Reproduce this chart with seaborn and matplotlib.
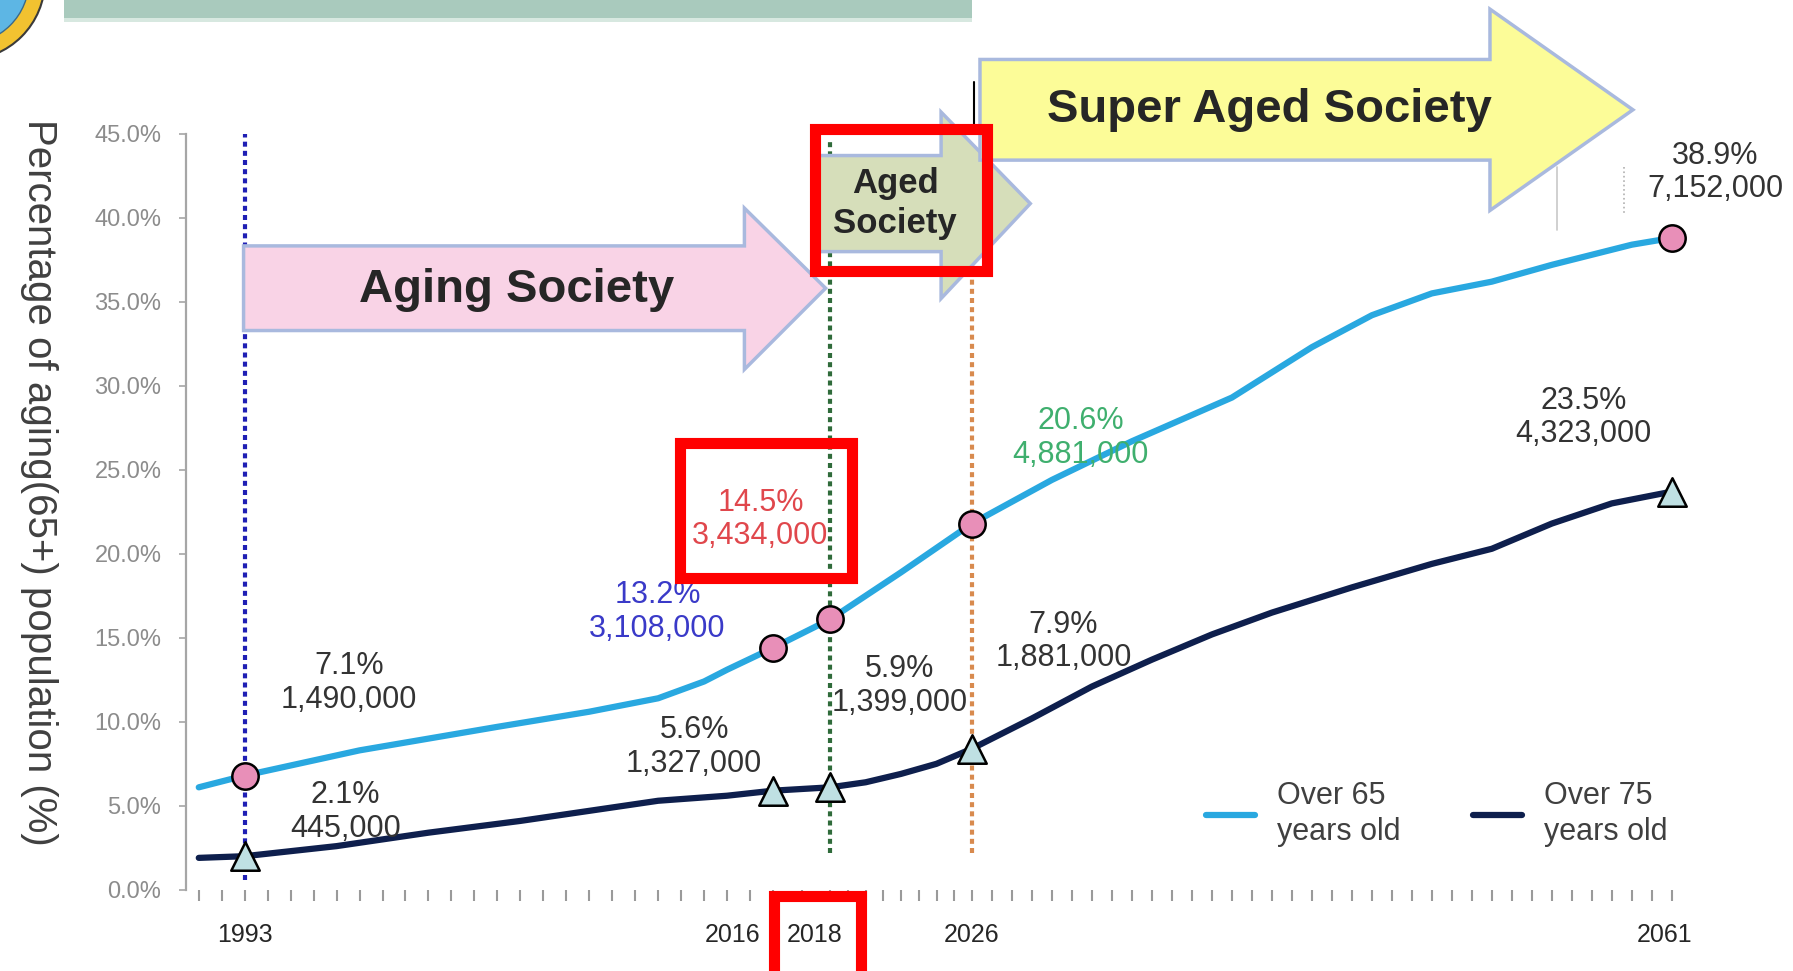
import numpy as np
import pandas as pd
import matplotlib
matplotlib.use('Agg')
import matplotlib.pyplot as plt
import matplotlib.transforms as mtransforms
import seaborn as sns
from matplotlib.patches import Polygon, Rectangle, Ellipse
from matplotlib.lines import Line2D

# ---- data (% of total population) ----
years_65 = [1991, 1993, 1998, 2004, 2008, 2011, 2013, 2014, 2016, 2018, 2022,
            2026, 2030, 2034, 2039, 2043, 2046, 2049, 2052, 2055, 2059, 2061]
pct_65 = [6.1, 6.8, 8.3, 9.7, 10.6, 11.4, 12.4, 13.1, 14.4, 16.1, 18.9,
          21.8, 24.4, 26.7, 29.3, 32.3, 34.2, 35.5, 36.2, 37.2, 38.4, 38.8]

years_75 = [1991, 1993, 1997, 2001, 2005, 2008, 2011, 2014, 2016, 2018, 2020,
            2022, 2024, 2026, 2029, 2032, 2035, 2038, 2041, 2045, 2049, 2052,
            2055, 2058, 2061]
pct_75 = [1.9, 2.0, 2.6, 3.4, 4.1, 4.7, 5.3, 5.6, 5.9, 6.1, 6.4,
          6.9, 7.5, 8.4, 10.2, 12.1, 13.7, 15.2, 16.5, 18.0, 19.4, 20.3,
          21.8, 23.0, 23.7]

series_names = ['Over 65\nyears old', 'Over 75\nyears old']
marker_years = [1993, 2016, 2018, 2026, 2061]
tick_years = [1993, 2016, 2018, 2026, 2061]
y_ticks = [0, 5, 10, 15, 20, 25, 30, 35, 40, 45]

# dotted guide lines: year, bottom %, top %
guide_years = [1993, 2018, 2026]
guide_low = [0.6, 2.2, 2.2]
guide_high = [45.0, 44.6, 37.4]
guide_colors = ['#1f1fb4', '#2f6b3a', '#d88a4e']

# value call-outs: text, colour, position in reference pixels (1568x849 view)
callouts = [
    ('7.1%\n1,490,000', '#333333', 305, 597),
    ('2.1%\n445,000', '#333333', 302, 710),
    ('13.2%\n3,108,000', '#3a3ac8', 575, 535),
    ('14.5%\n3,434,000', '#e0474c', 665, 454),
    ('5.6%\n1,327,000', '#333333', 607, 653),
    ('5.9%\n1,399,000', '#333333', 787, 600),
    ('20.6%\n4,881,000', '#3faf6e', 945, 383),
    ('7.9%\n1,881,000', '#333333', 930, 561),
    ('23.5%\n4,323,000', '#333333', 1385, 365),
    ('38.9%\n7,152,000', '#333333', 1500, 151),
]

C65 = '#29a8e0'
C75 = '#0e1f4d'

# reference was drawn with uneven spacing between the labelled years
SCALE_YEARS = [1980, 1993, 2016, 2018, 2026, 2061, 2075]
SCALE_PX = [214 - 13 * 20.09, 214, 676, 726, 850, 1462, 1462 + 14 * 17.49]


def fwd(x):
    return np.interp(x, SCALE_YEARS, SCALE_PX)


def inv(p):
    return np.interp(p, SCALE_PX, SCALE_YEARS)


W, H = 1568, 849


def P(x, y):
    # reference pixel -> figure fraction
    return (x / W, 1 - y / H)


sns.set_style('white')
plt.rcParams['font.family'] = ['Liberation Sans', 'DejaVu Sans']

fig = plt.figure(figsize=(17.93, 9.71), dpi=100)
ax = fig.add_axes([163 / W, 1 - 778 / H, (1475 - 163) / W, (778 - 117) / H])
ax.patch.set_alpha(0)

df = pd.concat([
    pd.DataFrame({'year': years_65, 'pct': pct_65, 'series': series_names[0]}),
    pd.DataFrame({'year': years_75, 'pct': pct_75, 'series': series_names[1]}),
])

ax.set_xscale('function', functions=(fwd, inv))

ax.vlines(guide_years, guide_low, guide_high, colors=guide_colors,
          linestyles=(0, (1.2, 1.0)), linewidth=3, zorder=1.5)

sns.lineplot(data=df, x='year', y='pct', hue='series', palette=[C65, C75],
             linewidth=4.5, ax=ax, legend=False, zorder=2)

lookup65 = dict(zip(years_65, pct_65))
lookup75 = dict(zip(years_75, pct_75))
m65 = pd.DataFrame({'year': marker_years, 'pct': [lookup65[y] for y in marker_years]})
m75 = pd.DataFrame({'year': marker_years, 'pct': [lookup75[y] for y in marker_years]})
sns.scatterplot(data=m65, x='year', y='pct', marker='o', s=360, color='#e88fb8',
                edgecolor='black', linewidth=1.8, ax=ax, zorder=3)
sns.scatterplot(data=m75, x='year', y='pct', marker='^', s=420, color='#bfe0e3',
                edgecolor='black', linewidth=1.8, ax=ax, zorder=3)

ax.set_xlim(inv(163), inv(1475))
ax.set_ylim(0, 45)
ax.set_xlabel('')
ax.set_ylabel('')

# axes styling
for s in ['top', 'right', 'bottom']:
    ax.spines[s].set_visible(False)
ax.spines['left'].set_color('#a6a6a6')
ax.spines['left'].set_linewidth(1.6)

ax.set_yticks(y_ticks)
ax.set_yticklabels([f'{v:.1f}%' for v in y_ticks])
ax.tick_params(axis='y', direction='out', length=5, width=1.2, color='#a6a6a6',
               labelsize=17, labelcolor='#8c8c8c', pad=13, left=True)

ax.set_xticks(tick_years)
ax.set_xticklabels([str(y) for y in tick_years])
ax.set_xticks(list(range(1991, 2062)), minor=True)
ax.xaxis.remove_overlapping_locs = False
ax.tick_params(axis='x', which='major', length=0, labelsize=18,
               labelcolor='#262626', pad=24)
ax.tick_params(axis='x', which='minor', direction='out', length=8, width=1.5,
               color='#9a9a9a', bottom=True)

shift = {'2016': -0.40, '2018': -0.16, '2061': -0.07}
for t, yr in zip(ax.xaxis.get_major_ticks(), tick_years):
    dx = shift.get(str(yr), 0)
    if dx:
        t.label1.set_transform(t.label1.get_transform() +
                               mtransforms.ScaledTranslation(dx, 0, fig.dpi_scale_trans))

fig.text(0.022, 0.503, 'Percentage of aging(65+) population (%)', rotation=270,
         ha='center', va='center', fontsize=29, color='#404040')

# legend
handles = [Line2D([], [], color=C65, lw=4.5), Line2D([], [], color=C75, lw=4.5)]
leg = ax.legend(handles, series_names, ncol=2, frameon=False, loc='center left',
                bbox_to_anchor=P(1055, 712), bbox_transform=fig.transFigure,
                fontsize=22, labelcolor='#404040', handlelength=1.6,
                handletextpad=0.7, columnspacing=2.4, borderpad=0, borderaxespad=0)
for t in leg.get_texts():
    t.set_linespacing(1.25)

# value call-outs
for txt, col, x, y in callouts:
    fx, fy = P(x, y)
    fig.text(fx, fy, txt, color=col, fontsize=22, ha='center', va='center',
             multialignment='center', linespacing=1.15)

# stage arrows (reference pixels)
edge = '#a9b9de'
aging = [(213, 215), (651, 215), (651, 182), (722, 252), (651, 323), (651, 289), (213, 289)]
aged = [(712, 136), (823, 136), (823, 98), (901, 178), (823, 261), (823, 220), (712, 220)]
superaged = [(857, 52), (1303, 52), (1303, 8), (1428, 96), (1303, 184), (1303, 140), (857, 140)]
for pts, face, z in [(aging, '#f9d3e6', 5), (aged, '#d6deba', 6), (superaged, '#fcfc98', 7)]:
    fig.add_artist(Polygon([P(*p) for p in pts], closed=True, facecolor=face,
                           edgecolor=edge, linewidth=2.5, zorder=z,
                           transform=fig.transFigure))

fig.text(*P(452, 254), 'Aging Society', fontsize=34, fontweight='bold',
         ha='center', va='center', zorder=8)
fig.text(*P(783, 178), 'Aged\nSociety', fontsize=25, fontweight='bold',
         ha='center', va='center', linespacing=1.3, zorder=8)
fig.text(*P(1110, 96), 'Super Aged Society', fontsize=34, fontweight='bold',
         ha='center', va='center', zorder=8)

# small lines around the arrows
fig.add_artist(Line2D([852 / W, 852 / W], [1 - 72 / H, 1 - 110 / H],
                      color='black', lw=1.5, zorder=8))
fig.add_artist(Line2D([1362 / W, 1362 / W], [1 - 146 / H, 1 - 201 / H],
                      color='#c8c8c8', lw=1.2, zorder=8))
fig.add_artist(Line2D([1420 / W, 1420 / W], [1 - 146 / H, 1 - 186 / H],
                      color='#b0b0b0', lw=1.2, ls=':', zorder=8))

# header bar and logo
fig.add_artist(Rectangle((56 / W, 1 - 16 / H), (850 - 56) / W, 16 / H,
                         facecolor='#a9cabd', edgecolor='none', zorder=4))
fig.add_artist(Rectangle((56 / W, 1 - 19 / H), (850 - 56) / W, 3 / H,
                         facecolor='#d7e8e0', edgecolor='none', zorder=4))
fig.add_artist(Ellipse((-35 / 1793, 1 + 20 / 971), 160 / 1793, 160 / 971,
                       facecolor='#f2c230', edgecolor='#3a3a3a', lw=1.5, zorder=4))
fig.add_artist(Ellipse((-35 / 1793, 1 + 20 / 971), 128 / 1793, 128 / 971,
                       facecolor='#5db6e4', edgecolor='#3a6a8a', lw=1, zorder=4))

# red highlight boxes
for x0, y0, x1, y1 in [(713, 113, 863, 237), (595, 387, 745, 505), (677, 783, 753, 900)]:
    fx0, fy1 = P(x0, y0)
    fx1, fy0 = P(x1, y1)
    fig.add_artist(Rectangle((fx0, fy0), fx1 - fx0, fy1 - fy0, fill=False,
                             edgecolor='#ff0000', linewidth=8, zorder=10))

fig.savefig('out.png', dpi=100)
